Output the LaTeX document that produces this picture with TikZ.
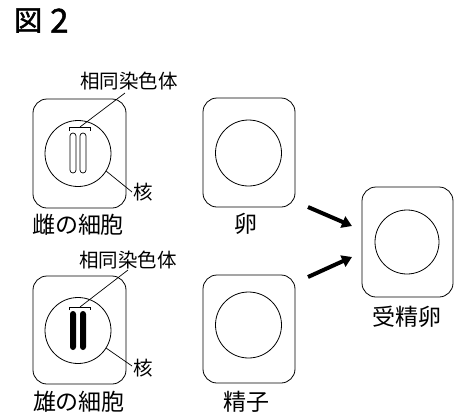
\documentclass[tikz,border=0pt]{standalone}
\usepackage{fontspec}
\usetikzlibrary{arrows.meta}
\newfontfamily\jp{Noto Sans CJK JP}
\newfontfamily\jpbold[FakeBold=1.5]{Noto Sans CJK JP}
\begin{document}
\begin{tikzpicture}[x=1pt,y=-1pt,
  cellbox/.style={draw,line width=0.8pt,rounded corners=14pt,inner sep=0pt},
  nucleus/.style={draw,line width=0.8pt,circle,inner sep=0pt,minimum size=66pt},
  chromo/.style={line width=0.7pt,rounded corners=3pt},
  leader/.style={line width=0.7pt},
  note/.style={font=\jp\fontsize{19.5}{20}\selectfont,inner sep=0pt,anchor=base},
  cellname/.style={font=\jp\fontsize{23}{24}\selectfont,inner sep=0pt,anchor=base},
  fuse/.style={line width=4pt,-{Triangle[length=10pt,width=12pt]}}]
\useasboundingbox (0,0) rectangle (464,416);

% title
\node[font=\jpbold\fontsize{28}{30}\selectfont,inner sep=0pt,anchor=base west] (title) at (14,30.6) {図};
\node[font=\jpbold\fontsize{33}{34}\selectfont,inner sep=0pt,anchor=base west] (titlenum) at (50,32.5) {2};

% female cell
\node[cellbox,minimum width=93pt,minimum height=109pt] (fbox) at (79.5,153.5) {};
\node[nucleus] (fnuc) at (78,153.5) {};
\draw[chromo] (70,133) rectangle (76,173);
\draw[chromo] (80,133) rectangle (86,173);
\draw[line width=0.7pt] (69,131) -- (69,127) -- (90,127) -- (90,131);
\coordinate (fpair) at (80,127);
\node[note] (fnote) at (129,88.6) {相同染色体};
\coordinate (fnoteend) at (125,93);
\draw[leader] (fnoteend) -- (fpair);
\node[note] (fkaku) at (143,199.6) {核};
\draw[leader] (fnuc.-32) -- (132,192) coordinate (fkakuend);
\node[cellname] (fname) at (78,233.7) {雌の細胞};

% male cell
\node[cellbox,minimum width=93pt,minimum height=108pt] (mbox) at (79.5,330) {};
\node[nucleus] (mnuc) at (78,330.5) {};
\fill[rounded corners=3pt] (70,311) rectangle (76,350);
\fill[rounded corners=3pt] (80,311) rectangle (86,350);
\draw[line width=0.7pt] (69,310) -- (69,307) -- (90,307) -- (90,310);
\coordinate (mpair) at (80,307);
\node[note] (mnote) at (128,267.6) {相同染色体};
\coordinate (mnoteend) at (128,270);
\draw[leader] (mnoteend) -- (mpair);
\node[note] (mkaku) at (143,375.6) {核};
\draw[leader] (mnuc.-32) -- (132,366) coordinate (mkakuend);
\node[cellname] (mname) at (79,410.7) {雄の細胞};

% egg
\node[cellbox,minimum width=92pt,minimum height=109pt] (ebox) at (249,152.5) {};
\node[nucleus] (enuc) at (248.5,153) {};
\node[cellname] (ename) at (246,232.7) {卵};

% sperm
\node[cellbox,minimum width=92pt,minimum height=108pt] (sbox) at (249,329) {};
\node[nucleus] (snuc) at (248.5,325) {};
\node[cellname] (sname) at (246.5,410.7) {精子};

% fertilized egg
\node[cellbox,minimum width=91pt,minimum height=110pt] (zbox) at (407.5,242) {};
\node[nucleus,minimum size=64pt] (znuc) at (407,242) {};
\node[cellname] (zname) at (407,325.7) {受精卵};

% fusion arrows
\coordinate (eout) at (308,207);
\coordinate (zin1) at (352,226);
\coordinate (sout) at (308,277);
\coordinate (zin2) at (352,257);
\draw[fuse] (eout) -- (zin1);
\draw[fuse] (sout) -- (zin2);
\end{tikzpicture}
\end{document}
